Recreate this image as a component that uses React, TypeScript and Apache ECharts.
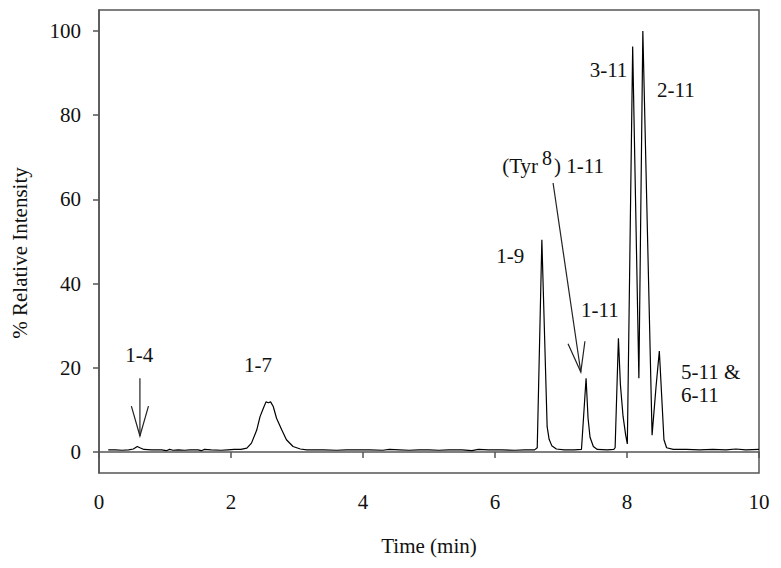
import React, { useEffect, useRef } from 'react';
import * as echarts from 'echarts';

// Retention time (min) and % relative intensity
const times = [
  0.14, 0.25, 0.35, 0.45, 0.52, 0.58, 0.62, 0.68, 0.8, 0.95, 1.02, 1.07, 1.12, 1.2, 1.3, 1.38, 1.5, 1.55, 1.6, 1.7,
  1.85, 1.95, 2.05, 2.15, 2.24, 2.31, 2.39, 2.44, 2.49, 2.53, 2.565, 2.6, 2.64, 2.69, 2.77, 2.84, 2.94, 3.05, 3.15,
  3.4, 3.6, 3.75, 3.9, 4.1, 4.3, 4.4, 4.55, 4.7, 4.85, 5.0, 5.15, 5.3, 5.5, 5.65, 5.75, 5.9, 6.1, 6.3, 6.45, 6.6,
  6.64, 6.71, 6.79, 6.82, 6.86, 6.93, 7.05, 7.2, 7.31, 7.38, 7.41, 7.44, 7.49, 7.55, 7.7, 7.8, 7.82, 7.87, 7.9, 7.94, 7.98, 8.005,
  8.086, 8.18, 8.24, 8.38, 8.44, 8.49, 8.56, 8.6, 8.7, 8.9, 9.1, 9.3, 9.5, 9.65, 9.8, 10.0,
];
const intensity = [
  0.5, 0.5, 0.4, 0.5, 0.7, 1.3, 1.0, 0.6, 0.5, 0.5, 0.3, 0.6, 0.4, 0.5, 0.4, 0.5, 0.5, 0.3, 0.6, 0.5,
  0.4, 0.5, 0.6, 0.6, 0.9, 2.1, 5.2, 8.4, 10.4, 11.9, 11.7, 11.9, 10.8, 8.0, 5.2, 2.9, 1.3, 0.7, 0.5,
  0.5, 0.4, 0.5, 0.5, 0.5, 0.4, 0.6, 0.5, 0.4, 0.5, 0.5, 0.4, 0.5, 0.5, 0.3, 0.6, 0.5, 0.5, 0.4, 0.5, 0.5,
  1.0, 50.4, 6.0, 3.0, 1.5, 0.7, 0.5, 0.5, 0.6, 17.5, 8.0, 3.5, 1.3, 0.6, 0.5, 0.6, 1.0, 27.0, 16.0, 8.5, 4.0, 1.9,
  96.3, 17.5, 100.0, 4.0, 15.5, 24.0, 2.9, 1.0, 0.6, 0.6, 0.5, 0.6, 0.5, 0.7, 0.5, 0.6,
];

const xTicks = [0, 2, 4, 6, 8, 10];
const yTicks = [0, 20, 40, 60, 80, 100];

// Peak annotations (centre position in data units)
const peakLabels = [
  { text: '1-4', t: 0.61, v: 23.0 },
  { text: '1-7', t: 2.41, v: 20.7 },
  { text: '1-9', t: 6.23, v: 46.6 },
  { text: '1-11', t: 7.59, v: 33.7 },
  { text: '3-11', t: 7.72, v: 90.7 },
  { text: '2-11', t: 8.74, v: 86.0 },
];
// left-aligned labels
const leftLabels = [
  { text: '5-11 &', t: 8.82, v: 19.0 },
  { text: '6-11', t: 8.82, v: 13.5 },
];
const tyrLabel = { pre: '(Tyr', sup: '8', post: ') 1-11', t: 6.11, v: 68.0 };

const arrows = [
  { from: [0.62, 17.5], to: [0.62, 3.8] },
  { from: [6.88, 63.9], to: [7.3, 19.0] },
];

const FONT = 'Liberation Serif';
const TXT = '#111';

function measure(text: string, size: number) {
  const c = document.createElement('canvas').getContext('2d');
  if (!c) return text.length * size * 0.5;
  c.font = `${size}px "${FONT}"`;
  return c.measureText(text).width;
}

export default function App() {
  const ref = useRef<HTMLDivElement>(null);
  useEffect(() => {
    if (!ref.current) return;
    const chart = echarts.init(ref.current, null, { renderer: 'svg' });
    const axisLine = { lineStyle: { color: '#555', width: 1.5 } };
    chart.setOption({
      animation: false,
      backgroundColor: '#fff',
      grid: {
        left: 99, right: 22, top: 10, bottom: 95,
        show: true, borderColor: '#555', borderWidth: 1.5, backgroundColor: 'transparent',
      },
      xAxis: {
        type: 'value', min: 0, max: 10, interval: 2,
        axisLine: { show: true, ...axisLine },
        axisTick: { show: true, inside: false, length: 6, lineStyle: { color: '#555', width: 1.5 } },
        axisLabel: { fontFamily: FONT, fontSize: 21, color: TXT, margin: 18, customValues: xTicks },
        splitLine: { show: false },
        name: 'Time (min)', nameLocation: 'middle', nameGap: 62,
        nameTextStyle: { fontFamily: FONT, fontSize: 21, color: TXT },
      },
      yAxis: {
        type: 'value', min: -5, max: 105,
        axisLine: { show: true, ...axisLine },
        axisTick: { show: true, inside: false, length: 6, lineStyle: { color: '#555', width: 1.5 }, customValues: yTicks },
        axisLabel: { fontFamily: FONT, fontSize: 21, color: TXT, margin: 18, customValues: yTicks },
        splitLine: { show: false },
      },
      series: [
        {
          type: 'line',
          data: times.map((t, i) => [t, intensity[i]]),
          showSymbol: false,
          lineStyle: { color: '#000', width: 1.2 },
          silent: true,
        },
      ],
    });

    const px = (t: number, v: number) => chart.convertToPixel({ gridIndex: 0 }, [t, v]) as number[];
    const g: any[] = [];
    const ts = { fontFamily: FONT, fontSize: 21, fill: TXT };
    peakLabels.forEach((l) => {
      const [x, y] = px(l.t, l.v);
      g.push({ type: 'text', x, y, style: { ...ts, text: l.text, align: 'center', verticalAlign: 'middle' } });
    });
    leftLabels.forEach((l) => {
      const [x, y] = px(l.t, l.v);
      g.push({ type: 'text', x, y, style: { ...ts, text: l.text, align: 'left', verticalAlign: 'middle' } });
    });
    {
      const [x, y] = px(tyrLabel.t, tyrLabel.v);
      const w1 = measure(tyrLabel.pre, 21) + 4;
      const w2 = measure(tyrLabel.sup, 20) + 2;
      g.push({ type: 'text', x, y, style: { ...ts, text: tyrLabel.pre, align: 'left', verticalAlign: 'middle' } });
      g.push({ type: 'text', x: x + w1, y: y - 8, style: { ...ts, fontSize: 20, text: tyrLabel.sup, align: 'left', verticalAlign: 'middle' } });
      g.push({ type: 'text', x: x + w1 + w2, y, style: { ...ts, text: tyrLabel.post, align: 'left', verticalAlign: 'middle' } });
    }
    arrows.forEach((a) => {
      const [x1, y1] = px(a.from[0], a.from[1]);
      const [x2, y2] = px(a.to[0], a.to[1]);
      const ang = Math.atan2(y1 - y2, x1 - x2);
      const L = 31;
      const h = (16 * Math.PI) / 180;
      const p1 = [x2 + L * Math.cos(ang + h), y2 + L * Math.sin(ang + h)];
      const p2 = [x2 + L * Math.cos(ang - h), y2 + L * Math.sin(ang - h)];
      const st = { stroke: '#222', lineWidth: 1.2, fill: 'none' };
      g.push({ type: 'line', shape: { x1, y1, x2, y2 }, style: st });
      g.push({ type: 'polyline', shape: { points: [p1, [x2, y2], p2] }, style: st });
    });
    g.push({
      type: 'text', x: 20, y: 253, rotation: Math.PI / 2,
      style: { ...ts, text: '% Relative Intensity', align: 'center', verticalAlign: 'middle' },
    });
    chart.setOption({ graphic: g });
    return () => chart.dispose();
  }, []);
  return <div ref={ref} style={{ position: 'fixed', left: 0, top: 0, width: 781, height: 568 }} />;
}
